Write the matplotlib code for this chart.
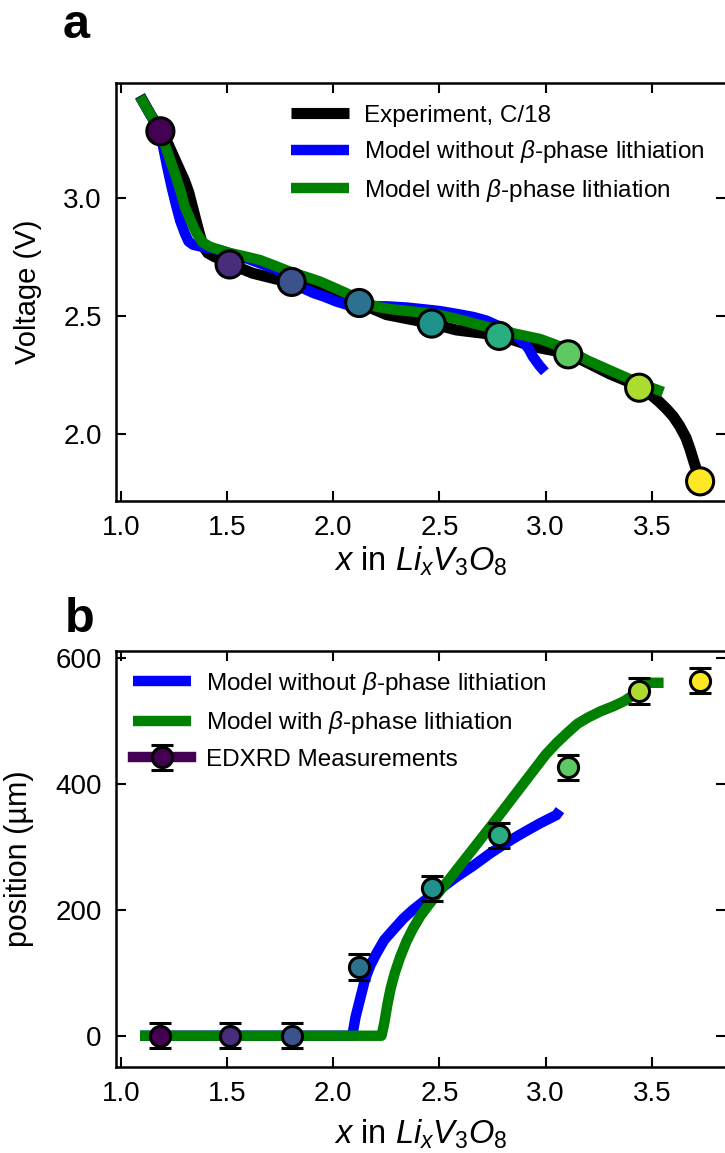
import matplotlib
matplotlib.use('Agg')
import matplotlib.pyplot as plt
import numpy as np

plt.rcParams['font.family'] = ['Liberation Sans', 'DejaVu Sans']
plt.rcParams['mathtext.fontset'] = 'custom'
plt.rcParams['mathtext.rm'] = 'Liberation Sans'
plt.rcParams['mathtext.it'] = 'Liberation Sans:italic'
plt.rcParams['mathtext.bf'] = 'Liberation Sans:bold'

# Sampling points (x in LixV3O8) where EDXRD was taken
x_pts   = [1.186, 1.512, 1.804, 2.122, 2.463, 2.781, 3.106, 3.440, 3.727]
v_pts   = [3.280, 2.717, 2.643, 2.554, 2.467, 2.415, 2.337, 2.196, 1.800]
pos_pts = [0, 0, 0, 109, 234, 318, 426, 547, 563]
pos_err = [20, 20, 20, 20, 20, 20, 20, 20, 20]

# Discharge curves (panel a)
exp_x = [1.09, 1.14, 1.19, 1.22, 1.25, 1.28, 1.30, 1.32, 1.34, 1.36, 1.375, 1.39, 1.41,
         1.44, 1.48, 1.51, 1.62, 1.80, 1.95, 2.12, 2.25, 2.46, 2.58, 2.78, 2.94, 3.11,
         3.20, 3.30, 3.38, 3.44, 3.49, 3.53, 3.57, 3.60, 3.63, 3.66, 3.68, 3.70, 3.715,
         3.727]
exp_v = [3.43, 3.35, 3.28, 3.23, 3.17, 3.11, 3.07, 3.02, 2.95, 2.88, 2.83, 2.79, 2.765,
         2.75, 2.735, 2.72, 2.68, 2.64, 2.60, 2.555, 2.505, 2.468, 2.44, 2.418, 2.37, 2.34,
         2.30, 2.255, 2.225, 2.196, 2.17, 2.14, 2.105, 2.075, 2.035, 1.985, 1.935, 1.876,
         1.835, 1.80]

nob_x = [1.09, 1.14, 1.186, 1.20, 1.218, 1.24, 1.262, 1.28, 1.301, 1.318, 1.34, 1.40,
         1.466, 1.60, 1.75, 1.858, 1.91, 1.954, 2.015, 2.07, 2.125, 2.19, 2.251, 2.345,
         2.42, 2.502, 2.58, 2.659, 2.72, 2.77, 2.816, 2.86, 2.894, 2.92, 2.94, 2.97, 2.996]
nob_v = [3.426, 3.35, 3.27, 3.21, 3.13, 3.04, 2.96, 2.90, 2.849, 2.815, 2.80, 2.788,
         2.778, 2.74, 2.69, 2.616, 2.595, 2.582, 2.56, 2.545, 2.54, 2.54, 2.54, 2.535,
         2.528, 2.52, 2.508, 2.495, 2.48, 2.46, 2.44, 2.415, 2.39, 2.36, 2.327, 2.29, 2.263]

wb_x = [1.09, 1.14, 1.186, 1.22, 1.254, 1.28, 1.301, 1.33, 1.356, 1.385, 1.419, 1.466,
        1.51, 1.58, 1.654, 1.73, 1.80, 1.87, 1.937, 2.0, 2.063, 2.13, 2.204, 2.28, 2.345,
        2.42, 2.502, 2.58, 2.659, 2.74, 2.816, 2.9, 2.973, 3.04, 3.098, 3.2, 3.318, 3.44,
        3.553]
wb_v = [3.426, 3.35, 3.278, 3.19, 3.102, 3.03, 2.961, 2.90, 2.849, 2.81, 2.792, 2.778,
        2.766, 2.752, 2.736, 2.71, 2.685, 2.665, 2.645, 2.62, 2.595, 2.565, 2.538, 2.527,
        2.521, 2.513, 2.503, 2.487, 2.468, 2.45, 2.432, 2.416, 2.402, 2.38, 2.358, 2.31,
        2.263, 2.215, 2.178]

# Phase front position (panel b)
nob_px = [1.09, 2.09, 2.094, 2.105, 2.117, 2.135, 2.149, 2.175, 2.204, 2.24, 2.282, 2.33,
          2.376, 2.455, 2.52, 2.58, 2.66, 2.737, 2.80, 2.863, 2.92, 2.973, 3.02, 3.05, 3.067]
nob_pp = [0, 0, 9, 30, 46, 70, 89, 112, 131, 152, 168, 186, 200, 221, 237, 252, 270, 289,
          303, 316, 327, 337, 345, 350, 358]

wb_px = [1.09, 2.227, 2.24, 2.255, 2.27, 2.29, 2.315, 2.345, 2.375, 2.41, 2.45, 2.49,
         2.55, 2.65, 2.75, 2.85, 2.95, 3.0, 3.05, 3.10, 3.15, 3.20, 3.26, 3.32, 3.37,
         3.41, 3.44, 3.47, 3.555]
wb_pp = [0, 0, 20, 50, 75, 100, 125, 150, 170, 190, 208, 225, 250, 293, 336, 380, 424,
         446, 464, 480, 495, 505, 515, 523, 531, 540, 550, 560, 560]

colors = plt.cm.viridis(np.linspace(0, 1, len(x_pts)))
xticks = [1.0, 1.5, 2.0, 2.5, 3.0, 3.5]
xlab = r'$x$ in $Li_xV_3O_8$'

fig = plt.figure(figsize=(7.25, 11.53), dpi=100)
ax1 = fig.add_axes([0.1594, 0.5657, 0.8426, 0.3623])
ax2 = fig.add_axes([0.1594, 0.0748, 0.8426, 0.3608])

line_kw = dict(solid_capstyle='butt', solid_joinstyle='round')
ax1.plot(exp_x, exp_v, color='black', lw=8, label='Experiment, C/18', **line_kw)
ax1.plot(nob_x, nob_v, color='blue', lw=7.5, label=r'Model without $\beta$-phase lithiation', **line_kw)
ax1.plot(wb_x, wb_v, color='green', lw=7.5, label=r'Model with $\beta$-phase lithiation', **line_kw)
ax1.scatter(x_pts, v_pts, s=19.5**2, c=colors, edgecolors='black', linewidths=2.2, zorder=5)

ax2.plot(nob_px, nob_pp, color='blue', lw=7.5, label=r'Model without $\beta$-phase lithiation', **line_kw)
ax2.plot(wb_px, wb_pp, color='green', lw=7.5, label=r'Model with $\beta$-phase lithiation', **line_kw)
for i in range(len(x_pts)):
    # single-point errorbar: the line only shows up in the legend handle
    ax2.errorbar([x_pts[i]], [pos_pts[i]], yerr=[pos_err[i]], fmt='-o', color=colors[i],
                 lw=7.5, ms=14.5, mec='black', mew=2.2, ecolor='black', elinewidth=2.2,
                 capsize=8, capthick=2.5, zorder=5,
                 label='EDXRD Measurements' if i == 0 else None)

for ax in (ax1, ax2):
    ax.set_xlim(0.975, 3.851)
    ax.set_xticks(xticks)
    ax.set_xticklabels(['%.1f' % t for t in xticks])
    ax.tick_params(direction='in', top=True, right=True, length=7.5, width=1.5,
                   labelsize=20, pad=10)
    for sp in ax.spines.values():
        sp.set_linewidth(1.8)

ax1.set_xlabel(xlab, fontsize=23.5, labelpad=3)
ax2.set_xlabel(xlab, fontsize=23.5, labelpad=8)

ax1.set_ylim(1.718, 3.484)
ax1.set_yticks([2.0, 2.5, 3.0])
ax1.set_ylabel('Voltage (V)', fontsize=21, labelpad=15)
ax2.set_ylim(-49.2, 610.8)
ax2.set_yticks([0, 200, 400, 600])
ax2.set_ylabel('position (µm)', fontsize=22, labelpad=15)

leg_kw = dict(frameon=False, fontsize=17.5, handlelength=2.4, handletextpad=0.6,
              borderaxespad=0)
ax1.legend(loc='upper left', bbox_to_anchor=(0.271, 0.971), labelspacing=0.47, **leg_kw)
ax2.legend(loc='upper left', bbox_to_anchor=(0.0126, 0.978), labelspacing=0.52, **leg_kw)

fig.text(0.087, 0.9668, 'a', fontsize=35, fontweight='bold', va='baseline')
fig.text(0.089, 0.4519, 'b', fontsize=35, fontweight='bold', va='baseline')

fig.savefig('out.png', dpi=100)
